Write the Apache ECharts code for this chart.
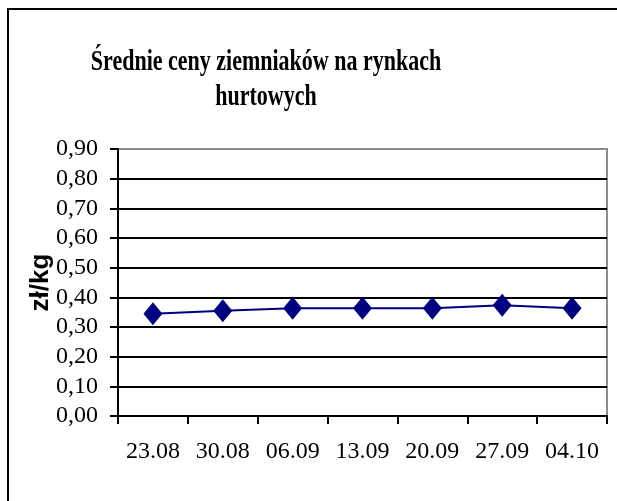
<!DOCTYPE html>
<html>
<head>
<meta charset="utf-8">
<script src="https://cdn.jsdelivr.net/npm/echarts@6/dist/echarts.min.js"></script>
<style>
  html, body { margin: 0; padding: 0; background: #fff; }
  #chart { width: 617px; height: 501px; }
</style>
</head>
<body>
<div id="chart"></div>
<script>
var dates = ['23.08', '30.08', '06.09', '13.09', '20.09', '27.09', '04.10'];
var prices = [0.345, 0.355, 0.363, 0.363, 0.363, 0.373, 0.363];

var myChart = echarts.init(document.getElementById('chart'));

var option = {
    backgroundColor: '#fff',
    animation: false,
    graphic: [{
        type: 'rect',
        shape: { x: 8, y: 9, width: 700, height: 600 },
        style: { fill: 'none', stroke: '#000', lineWidth: 2 }
    }, {
        // title, stretched vertically like the original
        type: 'text',
        x: 266,
        y: 45,
        scaleY: 1.35,
        style: {
            text: 'Średnie ceny ziemniaków na rynkach\nhurtowych',
            font: 'bold 22px "Liberation Serif"',
            fill: '#000',
            align: 'center',
            lineHeight: 26
        }
    }],
    grid: {
        left: 118,
        top: 149,
        right: 10,
        bottom: 85,
        show: true,
        borderColor: '#8c8c8c',
        borderWidth: 2
    },
    xAxis: {
        type: 'category',
        data: dates,
        boundaryGap: true,
        axisLine: { lineStyle: { color: '#000', width: 2 } },
        axisTick: { show: true, length: 8, lineStyle: { color: '#000', width: 2 } },
        axisLabel: {
            interval: 0,
            color: '#000',
            fontFamily: 'Liberation Serif',
            fontSize: 24,
            margin: 24
        }
    },
    yAxis: {
        type: 'value',
        min: 0,
        max: 0.9,
        interval: 0.1,
        name: 'zł/kg',
        nameLocation: 'middle',
        nameRotate: 90,
        nameGap: 64,
        nameMoveOverlap: false,
        nameTextStyle: {
            color: '#000',
            fontFamily: 'Liberation Sans',
            fontWeight: 'bold',
            fontSize: 26
        },
        axisLine: { show: true, lineStyle: { color: '#000', width: 2 } },
        axisTick: { show: true, length: 8, lineStyle: { color: '#000', width: 2 } },
        axisLabel: {
            color: '#000',
            fontFamily: 'Liberation Serif',
            fontSize: 24,
            margin: 20,
            formatter: function (v) { return v.toFixed(2).replace('.', ','); }
        },
        splitLine: { show: true, showMaxLine: false, lineStyle: { color: '#000', width: 2 } }
    },
    series: [{
        type: 'line',
        data: prices,
        symbol: 'diamond',
        symbolSize: [19, 23],
        itemStyle: { color: '#000080' },
        lineStyle: { color: '#000080', width: 2 }
    }]
};

myChart.setOption(option);
</script>
</body>
</html>
